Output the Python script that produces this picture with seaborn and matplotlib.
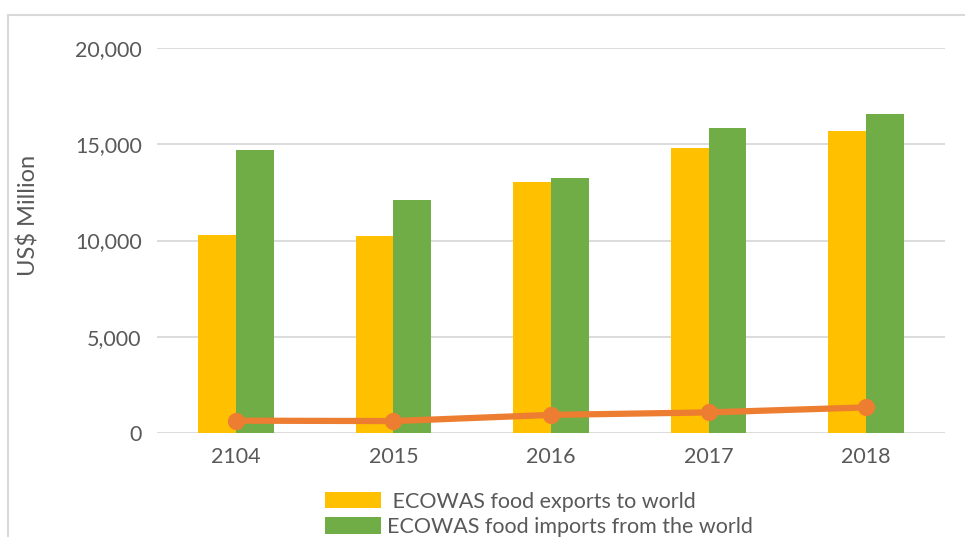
import matplotlib
matplotlib.use("Agg")
import matplotlib.pyplot as plt
import seaborn as sns
import pandas as pd
from matplotlib.patches import Rectangle, Patch
from matplotlib.ticker import FuncFormatter

years = ["2104", "2015", "2016", "2017", "2018"]
exports = [10290, 10230, 13040, 14790, 15690]
imports = [14720, 12100, 13250, 15840, 16590]
line_vals = [640, 620, 940, 1070, 1330]
series_names = ["ECOWAS food exports to world", "ECOWAS food imports from the world"]

df = pd.DataFrame({
    "year": years * 2,
    "value": exports + imports,
    "series": [series_names[0]] * len(years) + [series_names[1]] * len(years),
})

sns.set_theme(style="white")
plt.rcParams["font.family"] = ["Lato", "DejaVu Sans"]
text_col = "#595959"
grid_col = "#D9D9D9"
colors = ["#FFC000", "#70AD47"]

fig = plt.figure(figsize=(9.65, 5.37), dpi=100)
ax = fig.add_axes([157 / 965, 1 - 433 / 537, (945 - 157) / 965, (433 - 48) / 537])

sns.barplot(data=df, x="year", y="value", hue="series", order=years,
            hue_order=series_names, palette=colors, width=0.48, saturation=1,
            ax=ax, legend=False, edgecolor="none")
sns.pointplot(x=years, y=line_vals, order=years, color="#ED7D31",
              markers="o", markersize=9, linewidth=4.5, ax=ax)

ax.set_ylim(0, 20000)
ax.set_xlim(-0.5, len(years) - 0.5)
ax.set_yticks([0, 5000, 10000, 15000, 20000])
ax.yaxis.set_major_formatter(FuncFormatter(lambda v, p: f"{int(v):,}"))
ax.grid(axis="y", color=grid_col, linewidth=1.3)
ax.set_axisbelow(True)
for s in ax.spines.values():
    s.set_visible(False)
ax.tick_params(axis="both", length=0, labelsize=15.5, labelcolor=text_col)
ax.tick_params(axis="y", pad=11)
ax.tick_params(axis="x", pad=10)
ax.set_xlabel("")
ax.set_ylabel("US$ Million", fontsize=17, color=text_col)
ax.yaxis.set_label_coords((40 - 157) / 788, (433 - 215) / 385)

handles = [Patch(facecolor=colors[0], edgecolor="none"),
           Patch(facecolor=colors[1], edgecolor="none")]
fig.legend(handles, [" " + series_names[0], series_names[1]],
           loc="upper left", bbox_to_anchor=(316 / 965, 1 - 483 / 537),
           frameon=False, fontsize=15.5, labelcolor=text_col,
           handlelength=2.6, handleheight=0.8, handletextpad=0.3,
           labelspacing=0.25, borderaxespad=0)

# chart frame (partially visible)
fig.patches.append(Rectangle((8 / 965, -0.1), 1.2, 1 - 15 / 537 + 0.1,
                             transform=fig.transFigure, fill=False,
                             edgecolor="#D9D9D9", linewidth=1.5))

fig.savefig("out.png", dpi=100)
